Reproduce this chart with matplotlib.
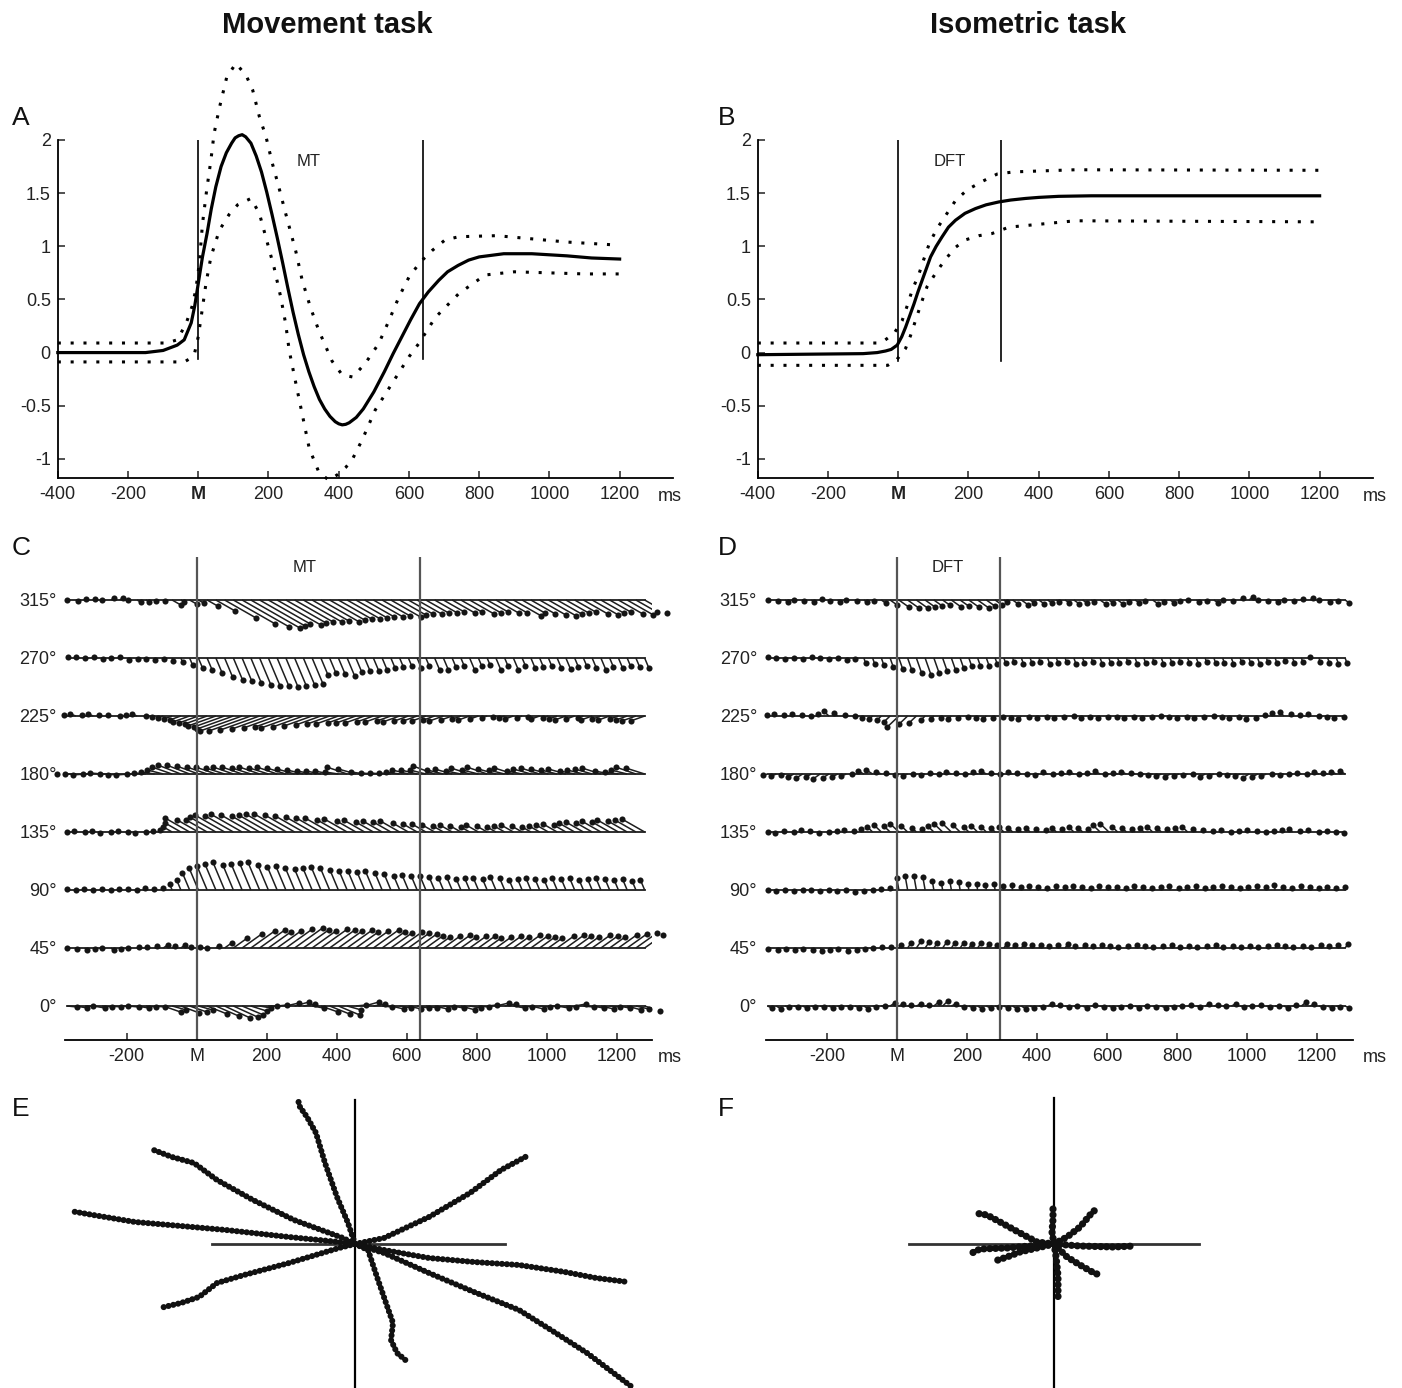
import numpy as np
import matplotlib.pyplot as plt
from matplotlib.collections import LineCollection

plt.rcParams['font.family'] = ['Liberation Sans', 'DejaVu Sans']

W, H = 1402, 1388

# ---- A: movement task, mean speed and +/- band (time in ms)
a_mean_t = [-400, -150, -100, -60, -40, -20, -10, 0, 12, 25, 37, 50, 65, 80, 95, 105, 115, 125, 135, 150,
            165, 180, 195, 210, 225, 240, 255, 270, 285, 300, 315, 330, 345, 360, 375, 390, 400, 410, 420, 430,
            450, 470, 500, 530, 555, 580, 605, 630, 655, 685, 710, 740, 770, 800, 870, 950, 1050, 1120, 1200]
a_mean = [0, 0, 0.02, 0.07, 0.12, 0.28, 0.44, 0.65, 0.90, 1.12, 1.35, 1.56, 1.75, 1.88, 1.97, 2.02, 2.04, 2.05, 2.03, 1.97,
          1.85, 1.70, 1.51, 1.30, 1.08, 0.85, 0.61, 0.38, 0.17, -0.02, -0.18, -0.32, -0.44, -0.53, -0.60, -0.65, -0.67, -0.68, -0.675, -0.66,
          -0.61, -0.53, -0.37, -0.18, -0.01, 0.15, 0.31, 0.46, 0.57, 0.68, 0.76, 0.82, 0.87, 0.90, 0.93, 0.93, 0.91, 0.89, 0.88]
a_hi_t = [-400, -90, -60, -35, -18, -7, 3, 12, 24, 36, 45, 60, 81, 107, 136, 155, 174, 193, 211, 230,
          248, 278, 296, 320, 343, 381, 410, 440, 476, 514, 543, 571, 600, 632, 666, 703, 742, 850, 950, 1050, 1200]
a_hi = [0.09, 0.09, 0.12, 0.27, 0.43, 0.59, 0.84, 1.21, 1.53, 1.81, 2.06, 2.30, 2.59, 2.72, 2.61, 2.47, 2.22, 2.03, 1.78, 1.55,
        1.32, 0.95, 0.68, 0.42, 0.21, -0.08, -0.21, -0.23, -0.10, 0.085, 0.30, 0.52, 0.71, 0.85, 0.96, 1.06, 1.09, 1.10, 1.07, 1.04, 1.01]
a_lo_t = [-400, -40, -20, -10, 0, 8, 22, 36, 60, 88, 112, 150, 174, 197, 216, 235, 249, 259, 278, 316,
          344, 372, 396, 420, 438, 467, 504, 552, 600, 628, 675, 742, 817, 900, 1000, 1100, 1200]
a_lo = [-0.088, -0.088, -0.05, 0.0, 0.15, 0.33, 0.65, 0.90, 1.15, 1.30, 1.39, 1.45, 1.31, 1.03, 0.80, 0.52, 0.27, 0.02, -0.29, -0.90,
        -1.13, -1.20, -1.15, -1.08, -1.01, -0.82, -0.54, -0.29, -0.04, 0.085, 0.33, 0.555, 0.73, 0.76, 0.75, 0.74, 0.74]
a_marks = [0, 640]

# ---- B: isometric task
b_mean_t = [-400, -100, -60, -36, -20, -3, 10, 21, 33, 45, 56, 68, 80, 92, 108, 125, 143, 163, 190, 220,
            250, 286, 320, 362, 400, 457, 550, 700, 1200]
b_mean = [-0.02, -0.01, 0.0, 0.015, 0.03, 0.07, 0.15, 0.24, 0.35, 0.46, 0.57, 0.68, 0.79, 0.90, 1.0, 1.09, 1.18, 1.245, 1.31, 1.355,
          1.39, 1.417, 1.435, 1.45, 1.46, 1.47, 1.475, 1.475, 1.475]
b_hi_t = [-400, -60, -45, -12, 11, 26, 40, 59, 73, 89, 111, 135, 163, 196, 239, 282, 329, 504, 1200]
b_hi = [0.09, 0.09, 0.10, 0.18, 0.30, 0.445, 0.59, 0.74, 0.88, 1.03, 1.17, 1.29, 1.43, 1.53, 1.61, 1.68, 1.70, 1.72, 1.715]
b_lo_t = [-400, -30, -5, 21, 35, 49, 65, 82, 111, 135, 163, 191, 230, 267, 315, 410, 504, 1200]
b_lo = [-0.12, -0.12, -0.07, 0.04, 0.16, 0.30, 0.46, 0.62, 0.77, 0.88, 0.99, 1.06, 1.10, 1.12, 1.18, 1.21, 1.24, 1.23]
b_marks = [0, 293]

# ---- C / D: vector tips per direction, vertical offset of tip (px), one every 25 ms
t_samp = np.arange(-370, 1281, 25)
row_names = ['0°', '45°', '90°', '135°', '180°', '225°', '270°', '315°']

c_0 = [-1, -2, 0, -2, -1, -1, 0, -1, -2, -1, -1, -6, -4, -7, -6,
       -4, -8, -10, -12, -11, -9, -5, -2, 0, 1, 3, 4,
       2, -2, -6, -8, -9, -4, 1, 4, 2, -1, -3, -2, -3, -2,
       -2, -3, -1, -2, -4, -2, -1, 1, 3, 2, -2, -1, -3, -1, 0, -2, -1, 2, -1, -2, -3, -1, -2, -4, -3, -5]
c_45 = [0, -1, -2, -1, 0, -2, -1, 0, 1, 1, 2, 3, 2, 3, 1,
        1, 0, 2, 5, 10, 14, 17, 18, 16, 17, 19, 20,
        18, 17, 19, 18, 17, 18, 16, 17, 18, 16, 15, 16, 15, 14,
        12, 11, 12, 13, 11, 12, 12, 10, 11, 12, 11, 13, 12, 11, 10, 12, 13, 12, 11, 13, 12, 11, 13, 14, 15, 13]
c_90 = [1, 0, 1, 0, 1, 0, 1, 1, 0, 2, 1, 2, 6, 10, 17,
        22, 24, 26, 28, 25, 26, 27, 28, 25, 23, 24, 22,
        21, 22, 23, 22, 20, 19, 19, 18, 19, 17, 16, 14, 15, 14,
        14, 13, 12, 13, 11, 12, 12, 11, 13, 12, 10, 11, 12, 11, 10, 12, 11, 12, 10, 11, 12, 11, 10, 11, 9, 10]
c_135 = [0, 1, 0, 1, -1, 0, 1, 0, -1, 0, 1, 2, 5, 9, 14,
         12, 12, 15, 17, 16, 18, 17, 16, 17, 18, 18, 17,
         16, 15, 14, 14, 12, 13, 11, 12, 10, 11, 10, 11, 9, 8,
         8, 7, 6, 7, 6, 5, 7, 6, 5, 6, 7, 6, 5, 6, 7, 8, 7, 9, 10, 9, 11, 10, 12, 11, 12, 13]
c_180 = [0, 0, -1, 0, 1, 0, -1, -1, 0, 1, 2, 4, 7, 9, 9,
         8, 7, 7, 6, 7, 7, 6, 7, 6, 7, 6, 5,
         4, 3, 3, 3, 2, 7, 5, 2, 1, 1, 1, 2, 4, 4,
         4, 8, 4, 5, 3, 6, 4, 7, 5, 4, 6, 3, 5, 6, 5, 4, 5, 3, 4, 5, 6, 3, 2, 4, 7, 6]
c_225 = [1, 2, 1, 2, 1, 1, 0, 1, 2, 0, -1, -2, -3, -4, -6,
         -7, -8, -10, -11, -13, -15, -15, -14, -13, -12, -11, -12,
         -11, -10, -9, -8, -8, -7, -7, -7, -6, -6, -5, -6, -5, -5,
         -5, -4, -5, -4, -3, -4, -3, -2, -1, -2, -3, -2, -1, -3, -2, -3, -4, -3, -2, -4, -3, -4, -3, -4, -5, -5]
c_270 = [1, 1, 0, 1, -1, 0, 1, -2, -1, -1, -2, -1, -3, -4, -7,
         -10, -12, -15, -19, -22, -23, -25, -27, -28, -28, -29, -28,
         -27, -26, -17, -15, -16, -18, -14, -13, -13, -12, -10, -9, -8, -10,
         -8, -12, -12, -9, -8, -12, -8, -7, -12, -8, -12, -8, -10, -9, -8, -10, -11, -9, -8, -10, -12, -9, -10, -8, -9, -10]
c_315 = [0, -1, 1, 1, 0, 2, 2, 0, -2, -2, -1, -1, -5, -2, -4,
         -3, -6, -11, -18, -24, -27, -28, -26, -24, -25, -23, -22,
         -22, -21, -22, -20, -19, -19, -18, -17, -17, -16, -17, -15, -14, -14,
         -13, -13, -12, -13, -12, -14, -13, -12, -13, -13, -16, -13, -14, -15, -16, -14, -13, -12, -14, -15, -13, -12, -14, -15, -12, -13]
# horizontal lean of the tips (ms per px of drop) and fixed shift (ms)
c_lean = [4, 4, -1.2, -5, -4, -8, 1.2, 5]
c_push = [25, 0, 0, 0, -30, 0, 0, 0]
c_marks = [0, 638]

d_0 = [-2, -3, -1, -1, -2, -1, -1, -2, -1, -1, -2, -3, -1, 0, 3,
       2, 1, 2, 1, 4, 5, 2, -1, -2, -3, -2, -1,
       -2, -3, -3, -2, -1, 2, 1, -1, 0, -2, 1, -1, -2, -1,
       0, -2, 0, -1, -2, -1, 0, 1, -1, 2, 1, 0, 2, -1, 0, 1, -1, 0, -2, 1, 4, 2, -1, -2, -1, -2]
d_45 = [-1, -2, -1, -2, -1, -2, -3, -2, -1, -3, -2, -1, 0, 1, 1,
        3, 5, 7, 6, 5, 6, 5, 5, 4, 5, 4, 3,
        4, 3, 4, 3, 3, 2, 3, 4, 2, 3, 2, 3, 2, 1,
        2, 3, 2, 1, 2, 3, 1, 2, 1, 2, 3, 1, 2, 1, 2, 1, 2, 3, 2, 1, 2, 1, 3, 2, 3, 4]
d_90 = [0, -1, 0, -1, 0, 0, -1, 0, -1, 0, -2, -1, 0, 1, 2,
        12, 14, 14, 13, 9, 7, 9, 8, 6, 6, 5, 6,
        4, 5, 3, 4, 3, 2, 4, 3, 4, 3, 2, 4, 3, 3,
        2, 4, 3, 2, 3, 4, 2, 3, 4, 2, 3, 4, 3, 2, 3, 4, 3, 5, 3, 2, 4, 3, 2, 3, 2, 3]
d_135 = [0, -1, 1, 0, 2, 1, -1, 0, 1, 2, 1, 3, 5, 7, 6,
         8, 6, 4, 3, 6, 8, 9, 7, 5, 6, 5, 4,
         5, 4, 3, 4, 3, 2, 4, 3, 5, 4, 3, 7, 8, 5,
         4, 3, 4, 5, 4, 3, 4, 5, 3, 2, 1, 2, 0, 1, 2, 1, 0, 1, 2, 3, 1, 2, 0, 1, 0, -1]
d_180 = [-1, -2, -1, -3, -4, -3, -5, -4, -3, -2, 0, 3, 4, 2, 1,
         -1, -2, 0, -1, 1, 0, 2, 1, 0, 2, 3, 1,
         0, 2, 1, 0, -1, 2, 0, 1, 2, 0, 1, 3, 0, 1,
         2, 1, 0, -1, -2, -3, -2, -1, 0, -3, -2, 0, -1, -2, -4, -3, -2, 0, -1, 0, 1, 0, 2, 1, 2, 3]
d_225 = [1, 2, 1, 2, 1, 0, 2, 5, 3, 1, 0, -2, -3, -4, -6,
         -11, -8, -7, -4, -3, -2, -3, -2, -1, -2, -3, -2,
         -1, -2, -3, -1, -2, -1, -2, -1, 0, -2, -1, -2, -1, -1,
         -2, -1, -2, -1, 0, -1, -2, -1, -2, -1, 0, -1, -2, -1, -3, -2, 1, 3, 4, 2, 1, 2, 0, -1, -2, -1]
d_270 = [1, 0, -1, 0, -1, 1, 0, -1, 0, -2, -1, -5, -6, -7, -9,
         -11, -12, -15, -17, -15, -13, -12, -10, -8, -8, -8, -6,
         -5, -4, -6, -5, -4, -6, -5, -4, -6, -5, -4, -6, -5, -5,
         -4, -6, -5, -4, -6, -5, -4, -5, -6, -4, -5, -5, -6, -4, -5, -6, -4, -5, -3, -5, -4, 1, -4, -5, -6, -5]
d_315 = [0, -1, -2, 0, -1, -2, 1, -1, -2, 0, -1, -2, -1, -3, -5,
         -7, -8, -8, -7, -6, -5, -7, -6, -7, -8, -6, -5,
         -2, -4, -5, -3, -4, -3, -2, -3, -4, -3, -2, -4, -3, -4,
         -2, -3, -1, -4, -2, -3, -1, 0, -2, -1, -3, 0, -1, 2, 3, 0, -1, -2, 0, -1, 1, 2, 0, -2, -1, -3]
d_lean = [1, 2, -0.5, -3, -2, -3, 1, 4]
d_push = [10, 0, 0, 0, -10, 0, 0, 0]
d_marks = [0, 293]

# ---- E / F: hand paths from the centre (px, y up)
e_0 = [(0, 0), (29, -6), (74, -14), (119, -18), (164, -21), (210, -28), (241, -34), (273, -38)]
e_45 = [(0, 0), (29, 6), (74, 27), (115, 51), (146, 74), (174, 89)]
e_90 = [(0, 0), (-7, 21), (-18, 47), (-30, 81), (-39, 111), (-48, 127), (-55, 137), (-57, 144)]
e_135 = [(0, 0), (-12, 6), (-61, 24), (-102, 44), (-138, 64), (-161, 81), (-183, 87), (-204, 95)]
e_180 = [(0, 0), (-16, 2), (-66, 7), (-129, 14), (-174, 18), (-220, 22), (-256, 28), (-285, 33)]
e_225 = [(0, 0), (-16, -4), (-66, -19), (-111, -31), (-138, -39), (-156, -53), (-174, -59), (-195, -64)]
e_270 = [(0, 0), (13, -6), (22, -33), (31, -59), (38, -79), (36, -96), (42, -109), (54, -119)]
e_315 = [(0, 0), (29, -9), (74, -29), (119, -48), (164, -66), (196, -86), (232, -109), (277, -143)]

f_0 = [(0, 0), (26, -2), (59, -3), (81, -2)]
f_45 = [(0, 0), (13, 7), (26, 17), (36, 29), (43, 36)]
f_90 = [(0, 0), (-2, 12), (-1, 25), (-1, 36)]
f_135 = [(0, 0), (-17, 2), (-34, 11), (-54, 22), (-67, 29), (-79, 31)]
f_180 = [(0, 0), (-24, -2), (-47, -4), (-74, -5), (-82, -9)]
f_225 = [(0, 0), (-17, -4), (-34, -8), (-47, -13), (-59, -17)]
f_270 = [(0, 0), (2, -12), (4, -32), (4, -54)]
f_315 = [(0, 0), (13, -13), (26, -21), (40, -29), (46, -31)]

TXT = '#222222'
fig = plt.figure(figsize=(W / 100, H / 100), dpi=100)


def box(l, t, r, b):
    return [l / W, 1 - b / H, (r - l) / W, (b - t) / H]


def speed_panel(ax, mean_t, mean, hi_t, hi, lo_t, lo, marks, mark_lo, tag, tag_x):
    ax.plot(mean_t, mean, color='k', lw=2.3, clip_on=False, solid_joinstyle='round')
    for tt, yy in [(hi_t, hi), (lo_t, lo)]:
        ax.plot(tt, yy, color='k', lw=2.2, ls=(0, (1, 3.2)), clip_on=False)
    for m in marks:
        ax.plot([m, m], [mark_lo, 2.0], color='k', lw=1.2)
    ax.text(tag_x, 1.80, tag, fontsize=12, color=TXT, ha='center', va='center')
    ax.set_xlim(-400, 1352)
    ax.set_ylim(-1.18, 2.0)
    ax.set_xticks(range(-400, 1201, 200))
    ax.set_xticklabels(['-400', '-200', 'M', '200', '400', '600', '800', '1000', '1200'])
    ax.get_xticklabels()[2].set_fontweight('bold')
    ax.set_yticks([-1, -0.5, 0, 0.5, 1, 1.5, 2])
    ax.set_yticklabels(['-1', '-0.5', '0', '0.5', '1', '1.5', '2'])
    for s in ['top', 'right']:
        ax.spines[s].set_visible(False)
    for s in ['left', 'bottom']:
        ax.spines[s].set_linewidth(1.3)
    ax.tick_params(direction='in', length=5, width=1.1, labelsize=13, colors=TXT)
    ax.tick_params(axis='x', pad=6)
    ax.tick_params(axis='y', pad=5)


axA = fig.add_axes(box(57.8, 140, 673, 478))
speed_panel(axA, a_mean_t, a_mean, a_hi_t, a_hi, a_lo_t, a_lo, a_marks, -0.06, 'MT', 315)
axB = fig.add_axes(box(757.8, 140, 1373, 478))
speed_panel(axB, b_mean_t, b_mean, b_hi_t, b_hi, b_lo_t, b_lo, b_marks, -0.08, 'DFT', 147)

row_gap = 58


def vector_panel(ax, rows, leans, pushes, marks, tag, tag_x):
    for k, (dy, lean, push) in enumerate(zip(rows, leans, pushes)):
        y0 = k * row_gap
        dy = np.array(dy, dtype=float)
        tx = t_samp + lean * np.abs(dy) + push
        ty = y0 + dy
        ax.plot([t_samp[0], t_samp[-1]], [y0, y0], color='#1e1e1e', lw=1.3)
        segs = [[(a, y0), (b, c)] for a, b, c in zip(t_samp, tx, ty)]
        ax.add_collection(LineCollection(segs, colors='#1e1e1e', linewidths=1.1))
        ax.plot(tx, ty, 'o', ms=4.4, color='#151515', mew=0, clip_on=False)
    for m in marks:
        ax.axvline(m, color='#555555', lw=1.6)
    ax.text(tag_x, 439, tag, fontsize=12, color=TXT, ha='center', va='center')
    ax.set_xlim(-376, 1301)
    ax.set_ylim(-34, 449)
    ax.set_xticks(range(-200, 1201, 200))
    ax.set_xticklabels(['-200', 'M', '200', '400', '600', '800', '1000', '1200'])
    ax.set_yticks([k * row_gap for k in range(len(row_names))])
    ax.set_yticklabels(row_names)
    for s in ['top', 'right', 'left']:
        ax.spines[s].set_visible(False)
    ax.spines['bottom'].set_linewidth(1.3)
    ax.tick_params(axis='x', direction='in', length=5, width=1.1, labelsize=13, colors=TXT, pad=6)
    ax.tick_params(axis='y', length=0, labelsize=13, colors=TXT, pad=6)


axC = fig.add_axes(box(65, 557, 652, 1040))
vector_panel(axC, [c_0, c_45, c_90, c_135, c_180, c_225, c_270, c_315], c_lean, c_push, c_marks, 'MT', 310)
axD = fig.add_axes(box(765.5, 557, 1352.5, 1040))
vector_panel(axD, [d_0, d_45, d_90, d_135, d_180, d_225, d_270, d_315], d_lean, d_push, d_marks, 'DFT', 145)


def path_panel(ax, paths, vext, hext, lw):
    ax.plot([0, 0], vext, color='k', lw=1.6)
    ax.plot(hext, [0, 0], color='#333333', lw=2.0)
    for p in paths:
        xs, ys = zip(*p)
        ax.plot(xs, ys, color='#111111', lw=lw, ls=(0, (0.01, 0.8)),
                dash_capstyle='round', solid_capstyle='round')
    ax.set_aspect('equal')
    ax.axis('off')


axE = fig.add_axes([0, 0, 701 / W, 298 / H])
path_panel(axE, [e_0, e_45, e_90, e_135, e_180, e_225, e_270, e_315], [144, -144], [-143, 150], 4.4)
axE.set_xlim(-355, 346)
axE.set_ylim(-144, 154)
axF = fig.add_axes([700 / W, 0, 702 / W, 298 / H])
path_panel(axF, [f_0, f_45, f_90, f_135, f_180, f_225, f_270, f_315], [146, -144], [-145, 145], 5.2)
axF.set_xlim(-354, 348)
axF.set_ylim(-144, 154)

# titles, panel letters, unit labels
fig.text(327 / W, 1 - 25 / H, 'Movement task', fontsize=21, fontweight='bold', ha='center', va='center', color='#111')
fig.text(1028 / W, 1 - 25 / H, 'Isometric task', fontsize=21, fontweight='bold', ha='center', va='center', color='#111')
for letter, x, y in [('A', 12, 118), ('B', 718, 118), ('C', 12, 548), ('D', 718, 548), ('E', 12, 1109), ('F', 718, 1109)]:
    fig.text(x / W, 1 - y / H, letter, fontsize=19, ha='left', va='center', color='#111')
for x, y in [(670, 496), (1375, 496), (670, 1057), (1375, 1057)]:
    fig.text(x / W, 1 - y / H, 'ms', fontsize=13, ha='center', va='center', color=TXT)

plt.savefig('out.png', dpi=100)
